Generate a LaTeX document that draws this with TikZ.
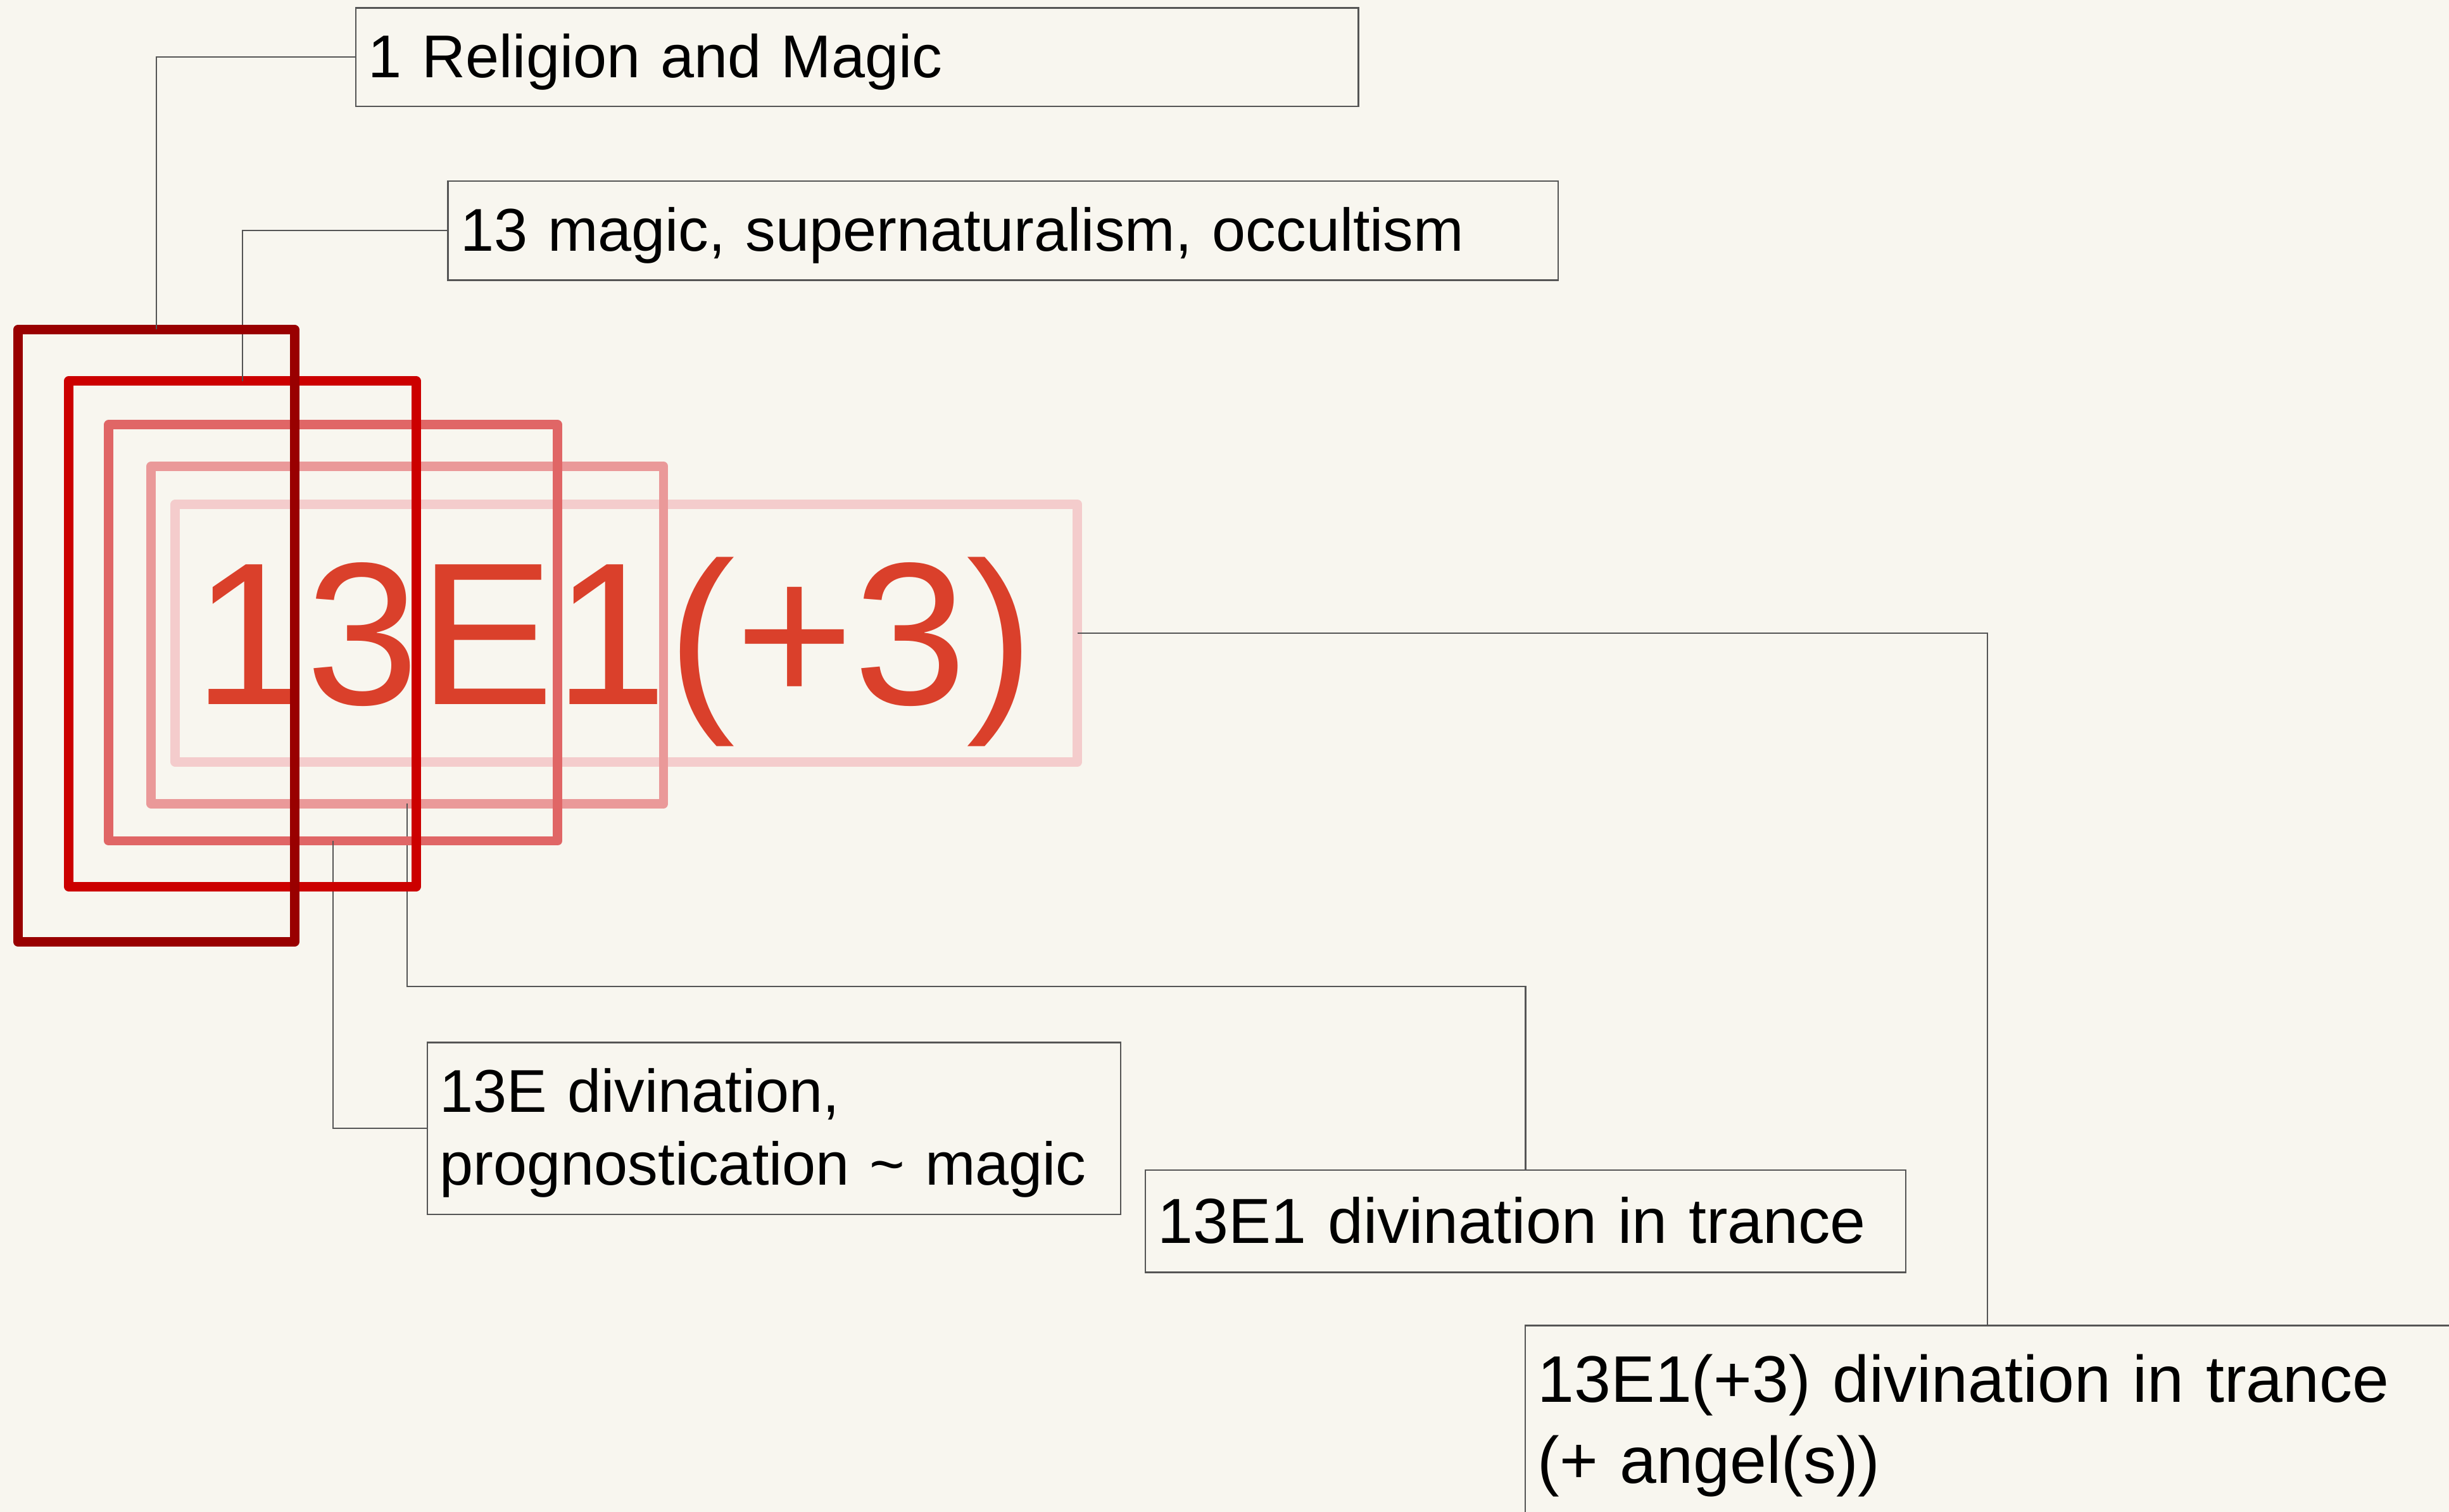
\documentclass[tikz,border=0pt]{standalone}
\usepackage{fontspec}
\setmainfont{Liberation Sans}
\usepackage{tikz}
\definecolor{paper}{RGB}{248,246,239}
\definecolor{redA}{RGB}{153,0,0}
\definecolor{redB}{RGB}{204,0,0}
\definecolor{redC}{RGB}{224,102,102}
\definecolor{redD}{RGB}{234,153,153}
\definecolor{redE}{RGB}{244,204,204}
\definecolor{codered}{RGB}{218,64,43}
\definecolor{wiregray}{RGB}{85,85,85}

\begin{document}
\begin{tikzpicture}[x=0.025cm,y=-0.025cm,
        nest/.style={draw=#1,line width=4.3pt,line join=round,inner sep=0pt,outer sep=0pt},
        capt/.style={draw=wiregray,line width=0.7pt,fill=paper,anchor=north west,align=left,
            inner xsep=0.2cm,inner ysep=0pt,outer sep=0pt,font=\fontsize{27.5}{33}\selectfont},
        wire/.style={draw=wiregray,line width=0.65pt}]
        \useasboundingbox (0,0) rectangle (1568,968);
        \fill[paper] (0,0) rectangle (1568,968);
        \clip (0,0) rectangle (1568,968);

        % class captions
        \node[capt,text width=15.6425cm,text height=1.115cm,text depth=0.4575cm] (cls1) at (227.9,5.1) {1 Religion and Magic};
        \node[capt,text width=17.365cm,text height=1.1225cm,text depth=0.4625cm] (cls13) at (286.8,115.9) {13 magic, supernaturalism, occultism};
        \node[capt,text width=10.695cm,text height=1.115cm,text depth=1.635cm] (cls13E) at (273.7,667.5) {13E divination,\\prognostication \textasciitilde{} magic};
        \node[capt,text width=11.7675cm,text height=1.17cm,text depth=0.465cm,font=\fontsize{29}{35}\selectfont] (cls13E1) at (733.3,749.1) {13E1 divination in trance};
        \node[capt,text width=14.395cm,text height=1.225cm,text depth=3cm,font=\fontsize{30}{37}\selectfont] (cls13E1p3) at (976.6,848.6) {13E1(+3) divination in trance\\(+ angel(s))};

        \node[anchor=base west,inner sep=0pt,text=codered,font=\fontsize{92.5}{110}\selectfont] (notation) at (123.4,451) {13E1(+3)};

        % nested frames, innermost first
        \node[nest=redE,minimum width=14.4375cm,minimum height=4.1175cm] (fr13E1p3) at (401.05,405.35) {};
        \draw[wire] (fr13E1p3.east) -| (cls13E1p3.north);
        \node[nest=redD,minimum width=8.2cm,minimum height=5.3975cm] (fr13E1) at (260.8,406.55) {};
        \coordinate (elbow) at (cls13E1.north |- 0,631.7);
        \draw[wire] (fr13E1.south) |- (elbow) -- (cls13E1.north);
        \node[nest=redC,minimum width=7.185cm,minimum height=6.6575cm] (fr13E) at (213.3,405.15) {};
        \draw[wire] (fr13E.south) |- (cls13E.west);
        \node[nest=redB,minimum width=5.56cm,minimum height=8.0875cm] (fr13) at (155.2,405.75) {};
        \draw[wire] (fr13.north) |- (cls13.west);
        \node[nest=redA,minimum width=4.4225cm,minimum height=9.8cm] (fr1) at (100.05,407) {};
        \draw[wire] (fr1.north) |- (cls1.west);
\end{tikzpicture}
\end{document}
